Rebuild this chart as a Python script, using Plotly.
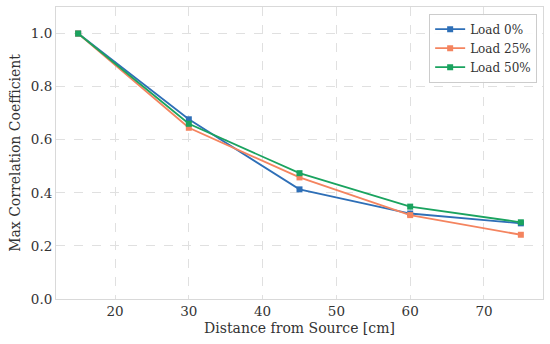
import plotly.graph_objects as go

distance = [15, 30, 45, 60, 75]
load_0 = [1.0, 0.677, 0.413, 0.322, 0.285]
load_25 = [1.0, 0.645, 0.458, 0.316, 0.242]
load_50 = [1.0, 0.660, 0.474, 0.348, 0.289]
series_names = ["Load 0%", "Load 25%", "Load 50%"]
colors = ["#2e6fb7", "#f4845f", "#1aa35f"]

fig = go.Figure()
for name, vals, c in zip(series_names, [load_0, load_25, load_50], colors):
    fig.add_trace(go.Scatter(x=distance, y=vals, mode="lines+markers", name=name,
                             line=dict(color=c, width=1.8),
                             marker=dict(symbol="square", size=6, color=c)))

font = "DejaVu Serif, serif"
fig.update_layout(
    width=550, height=344,
    margin=dict(l=56, r=7, t=7, b=45, autoexpand=False),
    paper_bgcolor="white", plot_bgcolor="white",
    font=dict(family=font, size=13.5, color="#333333"),
    showlegend=True,
    legend=dict(x=0.988, y=0.977, xanchor="right", yanchor="top",
                bgcolor="rgba(255,255,255,0.9)", bordercolor="#cccccc", borderwidth=1,
                font=dict(family=font, size=12, color="#333333"),
                tracegroupgap=0, itemwidth=30),
    xaxis=dict(range=[12, 78], tickvals=[20, 30, 40, 50, 60, 70],
               title=dict(text="Distance from Source [cm]", font=dict(size=14), standoff=4),
               showgrid=True, gridcolor="#e0e0e0", griddash="dash", gridwidth=1,
               zeroline=False, showline=True, linecolor="#d9d9d9", mirror=True,
               ticks="", tickfont=dict(size=13.5), automargin=False),
    yaxis=dict(range=[0, 1.1], tickvals=[0.0, 0.2, 0.4, 0.6, 0.8, 1.0], tickformat=".1f",
               title=dict(text="Max Correlation Coefficient", font=dict(size=14), standoff=6),
               showgrid=True, gridcolor="#e0e0e0", griddash="dash", gridwidth=1,
               zeroline=False, showline=True, linecolor="#d9d9d9", mirror=True,
               ticks="", tickfont=dict(size=13.5), automargin=False),
)
fig.write_html("out.html", config={"displayModeBar": False},
               post_script="document.body.style.margin='0';document.body.style.padding='0';document.body.style.overflow='hidden';")
